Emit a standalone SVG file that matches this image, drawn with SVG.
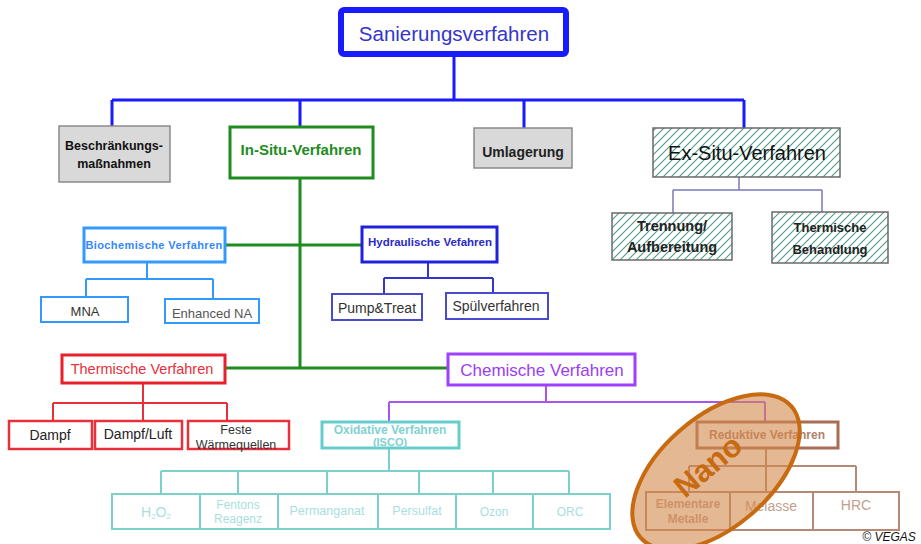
<svg xmlns="http://www.w3.org/2000/svg" width="921" height="544" viewBox="0 0 921 544">
<defs>
<pattern id="hatch" width="8" height="8" patternUnits="userSpaceOnUse">
<rect width="8" height="8" fill="#ffffff"/>
<path d="M-1,9 L9,-1 M-1,1 L1,-1 M7,9 L9,7" stroke="#4f9a8a" stroke-width="1.1"/>
</pattern>
</defs>
<style>
text{font-family:"Liberation Sans",Arial,sans-serif;text-anchor:middle;dominant-baseline:central}
.b{font-weight:bold}
.gray{fill:#d9d9d9;stroke:#8a8a8a;stroke-width:1.5}
.hat{fill:url(#hatch);stroke:#6a6a6a;stroke-width:1.5}
</style>
<rect width="921" height="544" fill="#ffffff"/>

<g id="connectors" fill="none">
<path d="M454,55 V100 M112,100 H744 M112,100 V126 M300,100 V126 M524,100 V128 M744,100 V128" stroke="#1a1aff" stroke-width="3"/>
<path d="M739,177 V190 M673,190 H822 M673,190 V213 M822,190 V212" stroke="#7a78b8" stroke-width="1.5"/>
<path d="M300,178 V368 M225,245 H361 M225,368 H448" stroke="#1e8c1e" stroke-width="3"/>
<path d="M147,262 V279 M86,279 H213 M86,279 V297 M213,279 V299" stroke="#3399ff" stroke-width="2"/>
<path d="M428,262 V278 M384,278 H493 M384,278 V294 M493,278 V293" stroke="#3535cc" stroke-width="2"/>
<path d="M143,383 V403 M53,403 H227 M53,403 V421 M143,403 V421 M227,403 V421" stroke="#e8303a" stroke-width="2"/>
<path d="M546,385 V402 M389,402 H765 M389,402 V422 M765,402 V422" stroke="#a855f0" stroke-width="2"/>
<path d="M389,448 V471 M161,471 H569 M161,471 V494 M238,471 V494 M327,471 V494 M419,471 V494 M493,471 V494 M569,471 V494" stroke="#7cd0cc" stroke-width="2"/>
<path d="M766,448 V492 M689,466 H856 M689,466 V492 M856,466 V492" stroke="#b58a74" stroke-width="2"/>
</g>

<g id="sanierungsverfahren">
<rect x="341" y="10" width="225" height="44" rx="3" fill="#ffffff" stroke="#1a1aff" stroke-width="6"/>
<text x="454" y="33" font-size="20.5" fill="#3535cc">Sanierungsverfahren</text>
</g>

<g id="beschraenkung">
<rect class="gray" x="59" y="126" width="111" height="56"/>
<text class="b" x="114" y="146" font-size="12.5" fill="#111">Beschränkungs-</text>
<text class="b" x="114" y="164" font-size="12.5" fill="#111">maßnahmen</text>
</g>

<g id="in-situ">
<rect x="230" y="127" width="143" height="51" fill="#ffffff" stroke="#1e8c1e" stroke-width="3"/>
<text class="b" x="301" y="149" font-size="15" fill="#1e8c1e">In-Situ-Verfahren</text>
</g>

<g id="umlagerung">
<rect class="gray" x="474" y="128" width="98" height="40"/>
<text class="b" x="523" y="152" font-size="14" fill="#222">Umlagerung</text>
</g>

<g id="ex-situ">
<rect class="hat" x="653" y="128" width="187" height="49"/>
<text x="747" y="153" font-size="20" fill="#111">Ex-Situ-Verfahren</text>
</g>

<g id="trennung">
<rect class="hat" x="612" y="213" width="120" height="47"/>
<text class="b" x="672" y="226" font-size="14.5" fill="#222">Trennung/</text>
<text class="b" x="672" y="247" font-size="14.5" fill="#222">Aufbereitung</text>
</g>

<g id="thermische-behandlung">
<rect class="hat" x="772" y="212" width="116" height="51"/>
<text class="b" x="830" y="227" font-size="13" fill="#222">Thermische</text>
<text class="b" x="830" y="249" font-size="13" fill="#222">Behandlung</text>
</g>

<g id="biochemische">
<rect x="84" y="228" width="141" height="34" fill="#ffffff" stroke="#3399ff" stroke-width="3"/>
<text class="b" x="154" y="245" font-size="11" letter-spacing="0.4" fill="#3388ff">Biochemische Verfahren</text>
</g>

<g id="mna">
<rect x="41" y="297" width="87" height="25" fill="#ffffff" stroke="#3399ff" stroke-width="2"/>
<text x="85" y="311" font-size="13" fill="#333">MNA</text>
</g>

<g id="enhanced-na">
<rect x="165" y="299" width="94" height="24" fill="#ffffff" stroke="#3399ff" stroke-width="2"/>
<text x="212" y="313" font-size="13" fill="#555">Enhanced NA</text>
</g>

<g id="hydraulische">
<rect x="362" y="227" width="135" height="35" fill="#ffffff" stroke="#2020dd" stroke-width="3"/>
<text class="b" x="430" y="242" font-size="11.5" fill="#2a2acc">Hydraulische Vefahren</text>
</g>

<g id="pump-treat">
<rect x="332" y="294" width="90" height="26" fill="#ffffff" stroke="#4a4acc" stroke-width="2"/>
<text x="377" y="308" font-size="14" fill="#333">Pump&amp;Treat</text>
</g>

<g id="spuelverfahren">
<rect x="446" y="293" width="102" height="26" fill="#ffffff" stroke="#4a4acc" stroke-width="2"/>
<text x="496" y="306" font-size="14" fill="#333">Spülverfahren</text>
</g>

<g id="thermische-verfahren">
<rect x="62" y="355" width="163" height="28" fill="#ffffff" stroke="#e8202a" stroke-width="3"/>
<text x="142" y="369" font-size="14.5" fill="#e8303a">Thermische Verfahren</text>
</g>

<g id="dampf">
<rect x="9" y="421" width="83" height="28" fill="#ffffff" stroke="#e8303a" stroke-width="2.5"/>
<text x="50" y="435" font-size="14" fill="#222">Dampf</text>
</g>

<g id="dampf-luft">
<rect x="95" y="421" width="87" height="28" fill="#ffffff" stroke="#e8303a" stroke-width="2.5"/>
<text x="138" y="434" font-size="14" fill="#222">Dampf/Luft</text>
</g>

<g id="feste-waermequellen">
<rect x="188" y="421" width="101" height="28" fill="#ffffff" stroke="#e8303a" stroke-width="2.5"/>
<text x="236" y="430" font-size="12.5" fill="#333">Feste</text>
<text x="236" y="445" font-size="12.5" fill="#333">Wärmequellen</text>
</g>

<g id="chemische-verfahren">
<rect x="448" y="354" width="187" height="31" fill="#ffffff" stroke="#a040ff" stroke-width="3"/>
<text x="542" y="370" font-size="17" fill="#9b3cf5">Chemische Verfahren</text>
</g>

<g id="oxidative">
<rect x="322" y="422" width="137" height="26" fill="#ffffff" stroke="#66cccc" stroke-width="3"/>
<text class="b" x="390" y="430" font-size="12" fill="#7fd2d2">Oxidative Verfahren</text>
<text class="b" x="390" y="442" font-size="11" fill="#7fd2d2">(ISCO)</text>
</g>

<g id="h2o2">
<rect x="112" y="494" width="88" height="35" fill="#ffffff" stroke="#7cd0cc" stroke-width="2"/>
<text x="156" y="512" font-size="14" fill="#a8e0de">H<tspan font-size="8" dy="4">2</tspan><tspan dy="-4">O</tspan><tspan font-size="8" dy="4">2</tspan></text>
</g>

<g id="fentons">
<rect x="200" y="494" width="78" height="35" fill="#ffffff" stroke="#7cd0cc" stroke-width="2"/>
<text x="238" y="505" font-size="12" fill="#a8e0de">Fentons</text>
<text x="238" y="519" font-size="12" fill="#a8e0de">Reagenz</text>
</g>

<g id="permanganat">
<rect x="278" y="494" width="100" height="35" fill="#ffffff" stroke="#7cd0cc" stroke-width="2"/>
<text x="327" y="511" font-size="12.5" fill="#a8e0de">Permanganat</text>
</g>

<g id="persulfat">
<rect x="378" y="494" width="78" height="35" fill="#ffffff" stroke="#7cd0cc" stroke-width="2"/>
<text x="417" y="511" font-size="12.5" fill="#a8e0de">Persulfat</text>
</g>

<g id="ozon">
<rect x="456" y="494" width="77" height="35" fill="#ffffff" stroke="#7cd0cc" stroke-width="2"/>
<text x="494" y="512" font-size="12" fill="#a8e0de">Ozon</text>
</g>

<g id="orc">
<rect x="533" y="494" width="77" height="35" fill="#ffffff" stroke="#7cd0cc" stroke-width="2"/>
<text x="570" y="512" font-size="12" fill="#a8e0de">ORC</text>
</g>

<g id="reduktive">
<rect x="697" y="422" width="141" height="26" fill="#ffffff" stroke="#a86e55" stroke-width="3"/>
<text class="b" x="767" y="435" font-size="12" fill="#b08068">Reduktive Verfahren</text>
</g>

<g id="elementare-metalle">
<rect x="646" y="492" width="84" height="38" fill="#ffffff" stroke="#b58a74" stroke-width="2"/>
<text class="b" x="688" y="504" font-size="12" fill="#c4a08c">Elementare</text>
<text class="b" x="688" y="519" font-size="12" fill="#c4a08c">Metalle</text>
</g>

<g id="melasse">
<rect x="730" y="492" width="83" height="38" fill="#ffffff" stroke="#b58a74" stroke-width="2"/>
<text x="771" y="506" font-size="14" fill="#c4a08c">Melasse</text>
</g>

<g id="hrc">
<rect x="813" y="492" width="86" height="38" fill="#ffffff" stroke="#b58a74" stroke-width="2"/>
<text x="856" y="505" font-size="14" fill="#c4a08c">HRC</text>
</g>

<g id="nano">
<ellipse cx="716" cy="472" rx="100" ry="55" transform="rotate(-41 716 472)" fill="#d4884c" fill-opacity="0.6" stroke="#c86a10" stroke-width="4"/>
<text class="b" x="708" y="466" font-size="31" fill="#c86a10" transform="rotate(-40 708 466)">Nano</text>
</g>

<text x="889" y="537" font-size="12" font-style="italic" fill="#111">© VEGAS</text>
</svg>
